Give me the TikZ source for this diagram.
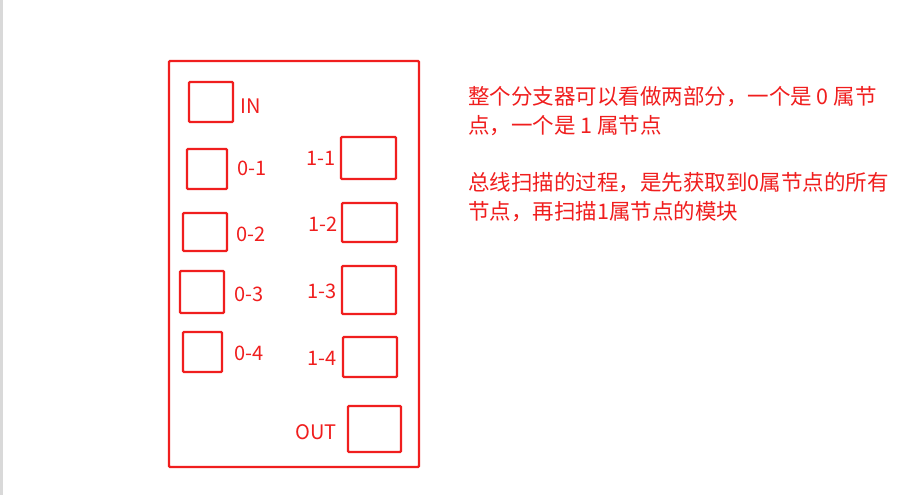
\documentclass[tikz,border=0pt]{standalone}
\usepackage{fontspec}
\setmainfont{Noto Sans CJK SC}
\definecolor{rd}{RGB}{240,30,30}
\begin{document}
\begin{tikzpicture}[x=1pt,y=-1pt,
  bx/.style={draw=rd,line width=2.2pt,rounded corners=1pt},
  lb/.style={text=rd,font=\fontsize{20}{24}\selectfont,inner sep=0pt},
  tx/.style={text=rd,font=\fontsize{21.5}{25}\selectfont,inner sep=0pt,anchor=west}]
\useasboundingbox[fill=white] (0,0) rectangle (911,495);
\fill[gray!30] (0,0) rectangle (3,495);
\draw[bx] (169,61) rectangle (419,467);
\draw[bx] (189,82) rectangle (233,122); \node[lb] (in) at (251,106) {IN};
\draw[bx] (187,149) rectangle (227,189); \node[lb] (a1) at (252,168) {0-1};
\draw[bx] (183,213) rectangle (227,251); \node[lb] (a2) at (251,234) {0-2};
\draw[bx] (180,271) rectangle (224,313); \node[lb] (a3) at (249,294) {0-3};
\draw[bx] (183,332) rectangle (222,372); \node[lb] (a4) at (249,353) {0-4};
\draw[bx] (341,137) rectangle (396,179); \node[lb] (b1) at (321,158) {1-1};
\draw[bx] (342,203) rectangle (397,242); \node[lb] (b2) at (323,224) {1-2};
\draw[bx] (342,266) rectangle (396,314); \node[lb] (b3) at (322,291) {1-3};
\draw[bx] (343,337) rectangle (397,377); \node[lb] (b4) at (322,358) {1-4};
\draw[bx] (348,406) rectangle (401,452); \node[lb] (out) at (316,432) {OUT};
\node[tx] (t1) at (468,97) {整个分支器可以看做两部分，一个是 0 属节};
\node[tx] (t2) at (468,126) {点，一个是 1 属节点};
\node[tx] (t3) at (468,183) {总线扫描的过程，是先获取到0属节点的所有};
\node[tx] (t4) at (468,212) {节点，再扫描1属节点的模块};
\end{tikzpicture}
\end{document}
